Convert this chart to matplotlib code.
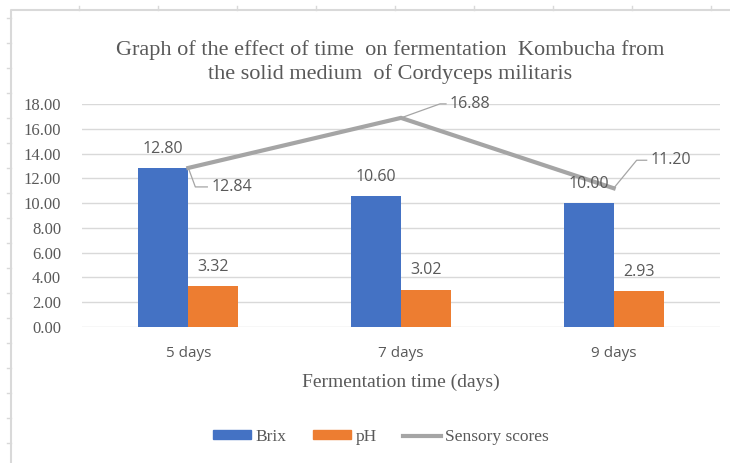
import matplotlib
matplotlib.use("Agg")
import matplotlib.pyplot as plt
from matplotlib.lines import Line2D
import numpy as np

categories = ["5 days", "7 days", "9 days"]
brix = [12.80, 10.60, 10.00]
ph = [3.32, 3.02, 2.93]
sensory = [12.84, 16.88, 11.20]
yticks = [0, 2, 4, 6, 8, 10, 12, 14, 16, 18]

BLUE = "#4472C4"
ORANGE = "#ED7D31"
GRAY = "#A5A5A5"
TEXT = "#595959"
GRID = "#D9D9D9"
SERIF = "Liberation Serif"
SANS = "Open Sans"

fig = plt.figure(figsize=(7.3, 4.63), dpi=100)
ax = fig.add_axes([82 / 730, 1 - 327 / 463, 638 / 730, 223 / 463])

x = np.arange(len(categories))
w = 0.235
ax.bar(x - w / 2, brix, w, color=BLUE, zorder=2, label="Brix")
ax.bar(x + w / 2, ph, w, color=ORANGE, zorder=2, label="pH")
ax.plot(x, sensory, color=GRAY, lw=3, zorder=3, label="Sensory scores",
        solid_joinstyle="miter")

ax.set_xlim(-0.5, 2.5)
ax.set_ylim(0, 18)

for xi, v in zip(x - w / 2, brix):
    ax.annotate(f"{v:.2f}", (xi, v), xytext=(0, 8), textcoords="offset points",
                ha="center", va="bottom", fontsize=11.5, family=SANS, color=TEXT)
for xi, v in zip(x + w / 2, ph):
    ax.annotate(f"{v:.2f}", (xi, v), xytext=(0, 8), textcoords="offset points",
                ha="center", va="bottom", fontsize=11.5, family=SANS, color=TEXT)

# sensory labels with leader lines (offsets in pixels)
leaders = [((7, -19), (19, -19)), ((39, 14), (45, 14)), ((23, 28), (33, 28))]
for xi, v, (p1, p2) in zip(x, sensory, leaders):
    ax.annotate(f"{v:.2f}", (xi, v), xytext=(p2[0] + 4, p2[1]),
                textcoords="offset pixels", ha="left", va="center",
                fontsize=11.5, family=SANS, color=TEXT)
    px, py = ax.transData.transform((xi, v))
    fig.add_artist(Line2D([px, px + p1[0], px + p2[0]],
                          [py, py + p1[1], py + p2[1]],
                          transform=None, color=GRAY, lw=0.9, zorder=4))

ax.set_yticks(yticks)
ax.set_yticklabels([f"{t:.2f}" for t in yticks], family=SERIF, fontsize=12, color=TEXT)
ax.set_xticks(x)
ax.set_xticklabels(categories, family=SANS, fontsize=11, color=TEXT)
ax.tick_params(axis="y", length=0, pad=15)
ax.tick_params(axis="x", length=0, pad=14)
ax.grid(axis="y", color=GRID, lw=1, zorder=0)
for s in ax.spines.values():
    s.set_visible(False)
ax.set_xlabel("Fermentation time (days)", family=SERIF, fontsize=14,
              color=TEXT, labelpad=9)

fig.text(390 / 730, 1 - 62 / 463,
         "Graph of the effect of time  on fermentation  Kombucha from\n"
         "the solid medium  of Cordyceps militaris",
         ha="center", va="center", family=SERIF, fontsize=16, color=TEXT,
         linespacing=1.3)

handles = [plt.Rectangle((0, 0), 1, 1, color=BLUE),
           plt.Rectangle((0, 0), 1, 1, color=ORANGE),
           Line2D([0], [0], color=GRAY, lw=3)]
fig.legend(handles, ["Brix", "pH", "Sensory scores"], loc="center",
           bbox_to_anchor=(381 / 730, 1 - 437 / 463), ncol=3, frameon=False,
           prop={"family": SERIF, "size": 12.5}, labelcolor=TEXT,
           handlelength=2.2, handleheight=0.4, handletextpad=0.25,
           columnspacing=1.5)

# outer frame (spreadsheet border)
fig.add_artist(Line2D([11, 11, 730], [0, 453, 453], transform=None,
                      color=GRID, lw=1.5))
for yy in range(18, 463, 25):
    fig.add_artist(Line2D([7, 11], [463 - yy, 463 - yy], transform=None, color=GRID, lw=1))
for xx in range(79, 730, 79):
    fig.add_artist(Line2D([xx, xx], [453, 457], transform=None, color=GRID, lw=1))

fig.savefig("out.png", dpi=100, facecolor="white")
